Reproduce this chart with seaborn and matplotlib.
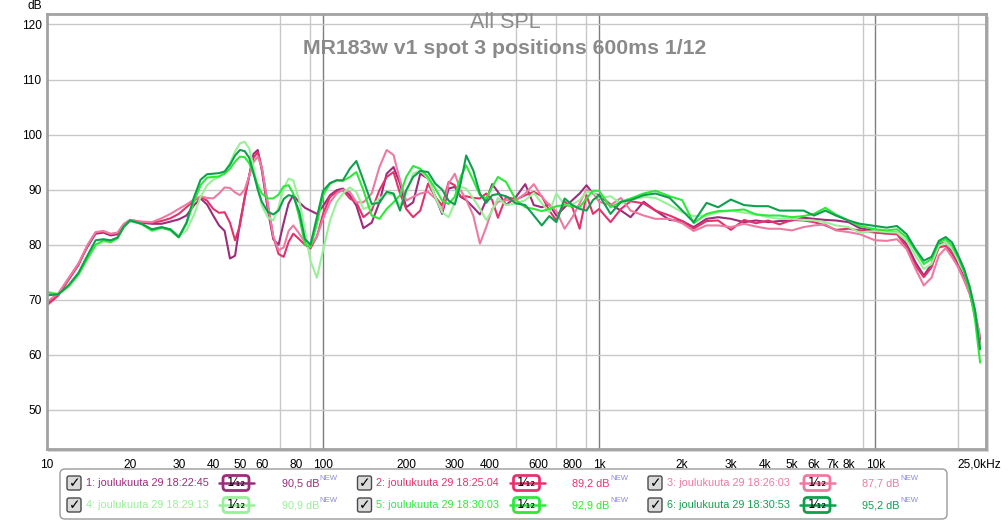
import numpy as np
import pandas as pd
import matplotlib
matplotlib.use("Agg")
import matplotlib.pyplot as plt
import seaborn as sns
from matplotlib.patches import Rectangle, FancyBboxPatch
from matplotlib.lines import Line2D
from matplotlib.ticker import FixedLocator, FixedFormatter, NullFormatter

# ---------------- data ----------------
freq_hz = [10, 11, 12, 13, 14, 15, 16, 17, 18, 19, 20, 22, 24, 26, 28, 30,
           32, 34, 36, 38, 40, 42, 44, 46, 48, 50, 52, 54, 56, 58, 60, 63, 66, 69, 72, 75, 78, 82, 86, 90, 95,
           100, 106, 112, 118, 125, 132, 140, 150, 160, 170, 180, 190, 200, 212, 225, 240, 255, 270, 285, 300,
           315, 330, 350, 370, 390, 410, 430, 460, 500, 540, 580, 620, 660, 700, 750, 800, 850, 900, 950,
           1000, 1100, 1200, 1300, 1450, 1600, 1800, 2000, 2200, 2450, 2700, 3000, 3350, 3700, 4100, 4500,
           5000, 5500, 6000, 6600, 7200, 8000, 8800,
           10000, 11000, 12000, 13000, 14000, 15000, 16000, 17000, 18000, 19000, 20000, 21000, 22000, 23000, 24000]

spl_1 = [69.3, 71.0, 73.9, 76.5, 79.6, 82.0, 82.2, 81.7, 81.9, 83.5, 84.3, 84.0, 83.8, 83.8, 84.2, 84.6,
         85.3, 87.1, 88.4, 87.3, 85.3, 83.5, 82.5, 77.5, 78.0, 84.0, 88.5, 92.5, 96.5, 97.2, 93.5, 86.5, 81.0, 80.0, 84.0, 87.5, 89.0, 87.7, 86.7, 86.2, 85.6,
         87.0, 89.0, 89.9, 90.2, 89.0, 87.1, 83.0, 84.0, 87.7, 92.9, 94.1, 91.1, 86.8, 87.7, 92.9, 92.0, 88.7, 85.6, 90.2, 90.5,
         88.7, 88.1, 86.8, 85.5, 88.1, 91.0, 89.6, 87.2, 88.7, 91.0, 87.2, 86.8, 87.3, 85.3, 86.8, 88.1, 89.3, 90.8, 89.3,
         89.0, 87.3, 86.2, 85.0, 87.8, 86.2, 84.5, 84.3, 83.2, 84.7, 85.0, 84.7, 84.1, 84.4, 84.1, 84.3, 84.4, 84.9, 84.7, 84.5, 84.4, 84.1, 83.0,
         82.5, 82.3, 82.2, 80.1, 76.8, 74.4, 76.5, 80.1, 80.4, 78.9, 76.2, 74.1, 71.4, 67.5, 62.8]

spl_2 = [69.0, 70.8, 73.7, 76.3, 79.8, 82.2, 82.4, 81.9, 82.1, 83.7, 84.5, 84.1, 84.0, 84.3, 84.8, 85.6,
         86.8, 88.0, 88.7, 88.0, 86.5, 85.8, 85.9, 84.0, 80.8, 83.5, 88.5, 92.5, 95.8, 96.8, 94.0, 87.5, 81.5, 78.3, 77.8, 80.5, 82.0, 81.0, 80.0, 79.3, 81.5,
         85.6, 88.7, 89.6, 89.9, 88.4, 87.7, 85.0, 86.2, 89.9, 92.3, 93.2, 89.3, 86.5, 85.0, 86.2, 91.1, 88.7, 87.1, 91.4, 90.8,
         88.7, 88.8, 88.5, 88.4, 89.3, 88.1, 84.9, 88.7, 88.2, 89.0, 89.6, 88.8, 86.2, 84.4, 87.8, 86.8, 82.9, 89.0, 85.6,
         86.5, 84.1, 86.5, 87.9, 87.5, 86.2, 85.3, 84.3, 82.9, 84.3, 84.4, 82.7, 84.5, 83.9, 84.4, 83.7, 84.5, 84.4, 84.1, 83.5, 82.7, 82.9, 82.6,
         82.2, 82.0, 81.9, 79.5, 76.2, 74.1, 75.9, 79.5, 79.8, 78.3, 75.9, 73.8, 71.1, 67.2, 62.2]

spl_3 = [69.6, 71.2, 74.0, 76.6, 79.9, 82.3, 82.5, 82.0, 82.2, 83.8, 84.5, 84.2, 84.1, 84.8, 85.6, 86.5,
         87.3, 88.2, 88.8, 88.5, 88.4, 89.3, 90.4, 90.3, 89.5, 89.0, 90.0, 92.5, 95.0, 96.0, 94.0, 87.5, 81.5, 79.0, 79.5, 82.5, 83.5, 82.0, 80.5, 79.8, 81.5,
         84.7, 87.7, 89.3, 90.0, 89.6, 87.7, 87.7, 89.3, 94.1, 97.2, 96.3, 91.7, 88.0, 88.7, 89.3, 89.6, 88.4, 86.2, 91.1, 92.9,
         89.9, 88.2, 85.3, 80.2, 83.2, 86.5, 87.8, 88.1, 88.1, 89.3, 91.0, 88.7, 87.2, 86.1, 82.9, 85.0, 87.5, 90.0, 89.4,
         87.8, 87.2, 88.5, 86.2, 85.3, 84.7, 84.7, 83.9, 82.5, 83.5, 83.5, 83.2, 83.8, 83.3, 82.9, 82.9, 82.6, 83.2, 83.5, 83.7, 82.6, 82.3, 81.9,
         80.8, 80.7, 81.0, 79.2, 75.6, 72.6, 74.0, 78.0, 79.4, 77.7, 75.9, 73.5, 71.1, 67.8, 63.4]

spl_4 = [71.5, 71.0, 72.4, 74.5, 77.3, 79.8, 80.6, 80.4, 81.1, 83.2, 84.3, 83.7, 82.5, 83.0, 82.8, 81.6,
         82.6, 85.3, 88.7, 90.8, 91.8, 92.3, 93.2, 94.8, 96.9, 98.4, 98.7, 97.5, 94.1, 90.2, 87.1, 85.0, 84.4, 86.8, 90.2, 92.0, 91.7, 88.0, 82.6, 77.1, 74.0,
         79.0, 84.4, 87.7, 89.3, 90.4, 89.6, 86.5, 87.1, 88.4, 89.3, 89.0, 87.1, 89.3, 92.9, 93.5, 92.0, 88.7, 85.9, 85.0, 87.7,
         90.5, 90.2, 88.4, 86.5, 84.5, 86.2, 88.5, 87.2, 87.5, 88.1, 89.4, 87.5, 85.9, 89.3, 87.2, 87.3, 88.1, 89.6, 89.6,
         88.5, 88.8, 87.5, 88.1, 88.7, 88.5, 87.2, 85.9, 85.2, 85.3, 85.9, 86.2, 85.8, 85.5, 85.0, 84.7, 84.7, 84.5, 84.4, 84.1, 83.5, 83.2, 82.2,
         82.5, 82.3, 82.2, 80.7, 78.0, 75.6, 76.5, 79.8, 80.4, 79.2, 77.1, 75.0, 72.6, 68.1, 61.6]

spl_5 = [71.3, 71.0, 72.5, 74.6, 77.5, 80.0, 80.8, 80.5, 81.2, 83.3, 84.4, 83.8, 82.6, 83.1, 82.6, 81.3,
         83.8, 87.7, 90.8, 92.2, 92.3, 92.4, 92.9, 93.8, 95.1, 96.0, 95.9, 94.8, 92.9, 90.8, 89.3, 88.4, 88.4, 89.1, 90.6, 90.8, 89.3, 85.0, 80.1, 79.5, 83.8,
         89.0, 91.1, 91.7, 91.6, 92.3, 93.2, 89.9, 85.3, 84.7, 86.5, 87.7, 89.0, 92.3, 94.3, 93.8, 92.3, 90.2, 88.0, 87.4, 88.7,
         92.3, 94.4, 91.7, 89.0, 88.4, 90.5, 92.3, 91.4, 88.1, 86.8, 86.5, 86.1, 86.5, 87.0, 87.2, 87.0, 86.8, 88.4, 89.8,
         89.8, 86.8, 87.8, 88.4, 89.3, 89.8, 88.8, 88.1, 83.9, 85.6, 86.1, 86.2, 86.4, 85.5, 85.3, 85.3, 85.0, 85.2, 85.6, 86.7, 85.5, 84.4, 83.4,
         82.8, 82.6, 82.8, 81.3, 78.9, 76.5, 77.4, 80.4, 81.0, 79.8, 77.7, 75.0, 71.7, 66.3, 58.6]

spl_6 = [70.8, 71.0, 72.7, 74.9, 78.0, 80.8, 81.0, 80.8, 81.3, 83.3, 84.4, 83.8, 82.8, 83.2, 82.8, 81.4,
         84.0, 88.5, 91.8, 92.8, 92.9, 93.0, 93.3, 94.5, 96.2, 97.2, 97.0, 95.8, 93.0, 90.0, 87.8, 86.0, 85.5, 86.2, 88.3, 89.0, 88.8, 86.0, 81.0, 80.0, 85.0,
         89.8, 91.2, 91.7, 91.7, 93.8, 95.2, 91.7, 87.4, 87.6, 89.6, 89.3, 86.2, 89.9, 92.3, 93.4, 93.2, 91.1, 90.0, 88.0, 87.3,
         91.1, 96.2, 93.5, 89.3, 87.6, 89.0, 89.2, 88.8, 87.5, 87.2, 85.3, 83.5, 85.2, 84.1, 88.4, 87.2, 86.5, 86.2, 88.1,
         89.0, 85.6, 87.8, 88.1, 89.0, 89.3, 88.5, 86.2, 84.1, 87.6, 86.8, 88.2, 87.2, 87.0, 87.0, 86.2, 86.2, 86.2, 85.3, 86.2, 85.3, 84.4, 83.8,
         83.4, 83.1, 83.4, 81.9, 79.2, 77.1, 77.8, 80.7, 81.4, 80.4, 78.0, 75.6, 72.3, 68.1, 61.0]

series_labels = ["1: joulukuuta 29 18:22:45", "2: joulukuuta 29 18:25:04", "3: joulukuuta 29 18:26:03",
                 "4: joulukuuta 29 18:29:13", "5: joulukuuta 29 18:30:03", "6: joulukuuta 29 18:30:53"]
series_levels = ["90,5 dB", "89,2 dB", "87,7 dB", "90,9 dB", "92,9 dB", "95,2 dB"]
series_colors = ["#9c2c7c", "#e4336c", "#ec7aa2", "#98f098", "#2ee83a", "#0fa04e"]

x_tick_values = [10, 20, 30, 40, 50, 60, 80, 100, 200, 300, 400, 600, 800,
                 1000, 2000, 3000, 4000, 5000, 6000, 7000, 8000, 10000, 23800]
x_tick_labels = ["10", "20", "30", "40", "50", "60", "80", "100", "200", "300", "400", "600", "800",
                 "1k", "2k", "3k", "4k", "5k", "6k", "7k", "8k", "10k", "25,0kHz"]
y_tick_values = [50, 60, 70, 80, 90, 100, 110, 120]
title_main = "All SPL"
title_sub = "MR183w v1 spot 3 positions 600ms 1/12"

# ---------------- figure ----------------
sns.set_theme(style="white")
plt.rcParams["font.family"] = ["Liberation Sans", "DejaVu Sans"]

W, H = 1008, 520
fig = plt.figure(figsize=(W / 100, H / 100), dpi=100)
fig.patch.set_facecolor("white")

L, R, T, B = 47, 986, 14, 449
# soft shadow behind plot frame
fig.patches.append(Rectangle(((L + 1) / W, 1 - (B + 3) / H), (R - L + 2) / W, (B - T) / H,
                             transform=fig.transFigure, facecolor="#d6d6d6", edgecolor="none", zorder=-5))
ax = fig.add_axes([L / W, 1 - B / H, (R - L) / W, (B - T) / H])
ax.set_facecolor("white")

spls = [spl_1, spl_2, spl_3, spl_4, spl_5, spl_6]
df = pd.concat([pd.DataFrame({"freq": freq_hz, "spl": s, "series": lab})
                for s, lab in zip(spls, series_labels)], ignore_index=True)

sns.lineplot(data=df, x="freq", y="spl", hue="series", hue_order=series_labels,
             palette=series_colors, linewidth=1.5, legend=False, ax=ax,
             estimator=None, sort=False)

ax.set_xscale("log")
ax.set_xlim(10, 25200)
ax.set_ylim(42.9, 121.9)

minor_x = [k * 10 ** n for n in range(1, 5) for k in range(2, 10) if k * 10 ** n <= 20000]
ax.xaxis.set_major_locator(FixedLocator(x_tick_values))
ax.xaxis.set_major_formatter(FixedFormatter(x_tick_labels))
ax.xaxis.set_minor_locator(FixedLocator(minor_x))
ax.xaxis.set_minor_formatter(NullFormatter())
ax.set_yticks(y_tick_values)
ax.set_yticklabels([str(v) for v in y_tick_values])

ax.grid(False)
ax.grid(which="minor", axis="x", color="#c8c8c8", linewidth=1.0, zorder=0)
ax.grid(which="major", axis="y", color="#c8c8c8", linewidth=1.0, zorder=0)
for dec in (100, 1000, 10000):
    ax.axvline(dec, color="#7d7d7d", linewidth=1.0, zorder=0.5)
ax.set_axisbelow(True)

ax.tick_params(axis="both", which="both", length=0, labelsize=8.6, colors="black")
ax.tick_params(axis="x", pad=7)
ax.tick_params(axis="y", pad=4)
ax.set_xlabel("")
ax.set_ylabel("")
for sp in ax.spines.values():
    sp.set_color("#a2a2a2")
    sp.set_linewidth(2.0)
    sp.set_visible(True)

fig.text(35 / W, 1 - 6 / H, "dB", ha="center", va="center", fontsize=8.6, color="black")
fig.text(505 / W, 1 - 22 / H, title_main, ha="center", va="center", fontsize=15.5, color="#8c8c8c")
fig.text(505 / W, 1 - 48 / H, title_sub, ha="center", va="center", fontsize=15.3,
         fontweight="bold", color="#8a8a8a")

# ---------------- legend panel (pixel coordinates) ----------------
tr = fig.dpi_scale_trans


def P(x, y):
    return (x / 100.0, (H - y) / 100.0)


box = FancyBboxPatch(P(60, 519), (947 - 60) / 100.0, (519 - 469) / 100.0,
                     boxstyle="round,pad=0,rounding_size=0.05", transform=tr,
                     facecolor="white", edgecolor="#9a9a9a", linewidth=1.0)
fig.patches.append(box)

for i, (lab, lev, col) in enumerate(zip(series_labels, series_levels, series_colors)):
    r, c = divmod(i, 3)
    cx = 74 + c * 290.5
    cy = 483 + r * 22
    # checkbox
    cb = FancyBboxPatch(P(cx - 7, cy + 7), 0.14, 0.14, boxstyle="round,pad=0,rounding_size=0.02",
                        transform=tr, facecolor="#dadada", edgecolor="#4a4a4a", linewidth=1.0)
    fig.patches.append(cb)
    fig.text(*P(cx + 0.5, cy), "\u2713", transform=tr, ha="center", va="center",
             fontsize=10, fontweight="bold", family=["DejaVu Sans"], color="black")
    # label
    fig.text(*P(cx + 12, cy), lab, transform=tr, ha="left", va="center", fontsize=7.8, color=col)
    # smoothing icon
    x0, y0 = P(cx + 145, cy)
    x1, _ = P(cx + 180, cy)
    fig.lines.append(Line2D([x0, x1], [y0, y0], transform=tr, color=col, linewidth=1.8))
    ib = FancyBboxPatch(P(cx + 149, cy + 7.5), 0.26, 0.15, boxstyle="round,pad=0,rounding_size=0.035",
                        transform=tr, facecolor="white", edgecolor=col, linewidth=2.0)
    fig.patches.append(ib)
    fig.text(*P(cx + 162, cy), "1\u2044\u2081\u2082", transform=tr, ha="center", va="center",
             fontsize=8.5, family=["DejaVu Sans"], color="black")
    # level and NEW tag
    fig.text(*P(cx + 245, cy), lev, transform=tr, ha="right", va="center", fontsize=7.8, color=col)
    fig.text(*P(cx + 245.5, cy - 4), "NEW", transform=tr, ha="left", va="center",
             fontsize=5.6, color="#8a8ae8")

fig.savefig("out.png", dpi=100, facecolor="white")
